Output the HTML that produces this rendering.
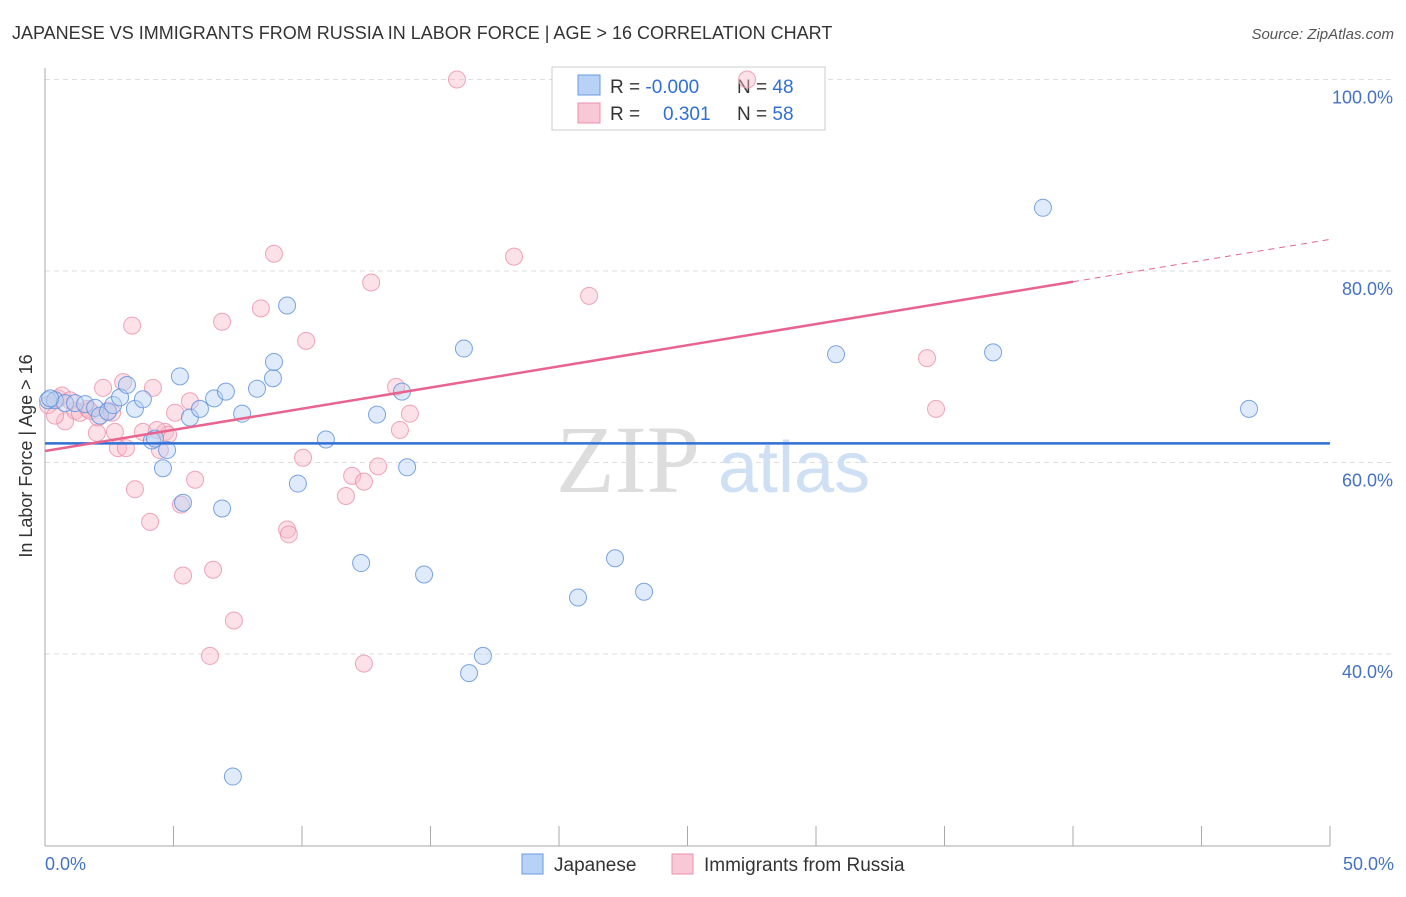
<!DOCTYPE html>
<html><head><meta charset="utf-8"><style>
body{margin:0;background:#fff;font-family:"Liberation Sans",sans-serif;}
</style></head><body>
<svg width="1406" height="892" xmlns="http://www.w3.org/2000/svg" font-family="Liberation Sans, sans-serif">
<text x="12" y="39" font-size="18" fill="#333">JAPANESE VS IMMIGRANTS FROM RUSSIA IN LABOR FORCE | AGE &gt; 16 CORRELATION CHART</text>
<text x="1394" y="39" font-size="15" fill="#555" font-style="italic" text-anchor="end">Source: ZipAtlas.com</text>
<g id="grid"></g>
<line x1="45" y1="68" x2="45" y2="846" stroke="#aaa"/>
<line x1="45" y1="846" x2="1330" y2="846" stroke="#aaa"/>
<text x="556" y="492" font-size="96" fill="#ddd" font-family="Liberation Serif, serif">ZIP</text>
<text x="718" y="492" font-size="72" fill="#cfe0f5">atlas</text>
<g>
<rect x="552" y="67" width="273" height="63" fill="#fff" stroke="#ccc"/>
<rect x="578" y="75" width="22" height="20" fill="#b8d2f5" stroke="#6a9ae0"/>
<rect x="578" y="103" width="22" height="20" fill="#f8c8d6" stroke="#e890aa"/>
<text x="610" y="93" font-size="19" fill="#333">R = <tspan fill="#2f6fd6">-0.000</tspan></text>
<text x="737" y="93" font-size="19" fill="#333">N = <tspan fill="#2f6fd6">48</tspan></text>
<text x="610" y="120" font-size="19" fill="#333">R = </text>
<text x="663" y="120" font-size="19" fill="#2f6fd6">0.301</text>
<text x="737" y="120" font-size="19" fill="#333">N = <tspan fill="#2f6fd6">58</tspan></text>
</g>
<g id="ticks"></g>
<g id="pts"></g>
<g id="lines"></g>
<text x="32" y="456" font-size="18" fill="#333" text-anchor="middle" transform="rotate(-90 32 456)">In Labor Force | Age &gt; 16</text>
<text x="45" y="870" font-size="18" fill="#4472c4">0.0%</text>
<text x="1394" y="870" font-size="18" fill="#4472c4" text-anchor="end">50.0%</text>
<g>
<rect x="522" y="854" width="21" height="20" fill="#b8d2f5" stroke="#6a9ae0"/>
<text x="554" y="871" font-size="19" fill="#333">Japanese</text>
<rect x="672" y="854" width="21" height="20" fill="#f8c8d6" stroke="#e890aa"/>
<text x="704" y="871" font-size="19" fill="#333">Immigrants from Russia</text>
</g>
</svg>
<script>
const yTicks=[40,60,80,100];
const xTickVals=[0,5,10,15,20,25,30,35,40,45,50];
const blueX=[0.12,0.39,0.78,1.17,1.56,1.95,2.14,2.45,2.65,2.92,3.19,3.5,3.81,4.16,4.28,4.59,4.75,5.25,5.37,5.64,6.03,6.58,6.89,7.04,7.31,7.67,8.25,8.87,8.91,9.42,9.84,10.93,12.3,12.92,13.89,14.09,14.75,16.3,16.5,17.04,20.74,22.18,23.31,30.78,36.89,38.83,46.85,0.2];
const blueY=[66.5,66.5,66.2,66.2,66.1,65.7,64.9,65.3,66.0,66.8,68.1,65.6,66.6,62.3,62.5,59.4,61.3,69.0,55.8,64.7,65.6,66.7,55.2,67.4,27.2,65.1,67.7,68.8,70.5,76.4,57.8,62.4,49.5,65.0,67.4,59.5,48.3,71.9,38.0,39.8,45.9,50.0,46.5,71.3,71.5,86.6,65.6,66.7];
const pinkX=[0.12,0.51,0.66,0.78,1.17,1.36,1.67,2.02,2.26,2.45,2.72,2.84,3.04,3.15,3.39,3.5,3.81,4.09,4.2,4.47,4.67,4.79,5.06,5.29,5.37,5.64,5.84,6.42,6.54,6.89,7.35,8.4,8.91,9.42,9.49,10.04,10.16,11.71,11.95,12.41,12.41,12.69,12.96,13.66,13.81,14.2,16.03,18.25,21.17,27.32,34.32,34.67,2.06,4.36,1.75,2.61,0.97,0.39];
const pinkY=[66.0,66.7,67.0,64.3,65.4,65.2,65.6,63.1,67.8,65.4,63.2,61.5,68.4,61.5,74.3,57.2,63.2,53.8,67.8,61.3,63.2,62.9,65.2,55.6,48.2,66.4,58.2,39.8,48.8,74.7,43.5,76.1,81.8,53.0,52.5,60.5,72.7,56.5,58.6,58.0,39.0,78.8,59.6,67.9,63.4,65.1,100,81.5,77.4,100,70.9,65.6,64.7,63.4,65.4,65.2,66.5,64.9];
const xMin=0,xMax=50,yMin=0,yMax=100;
function sx(v){return 45+(v-xMin)/(xMax-xMin)*1285;}
function sy(v){return 1037-(v-yMin)/(yMax-yMin)*957.5;}
const NS='http://www.w3.org/2000/svg';
const grid=document.getElementById('grid');
yTicks.forEach(t=>{
 const l=document.createElementNS(NS,'line');
 l.setAttribute('x1',45);l.setAttribute('x2',1394);l.setAttribute('y1',sy(t));l.setAttribute('y2',sy(t));
 l.setAttribute('stroke','#ddd');l.setAttribute('stroke-dasharray','5,4');
 
 
 grid.appendChild(l);
 const tx=document.createElementNS(NS,'text');
 tx.setAttribute('x',1393);tx.setAttribute('y',sy(t)+24);tx.setAttribute('text-anchor','end');
 tx.setAttribute('font-size','18');tx.setAttribute('fill','#4472c4');tx.textContent=t.toFixed(1)+'%';
 
 
 grid.appendChild(tx);
});
const ticks=document.getElementById('ticks');
xTickVals.forEach(t=>{
 const l=document.createElementNS(NS,'line');
 l.setAttribute('x1',sx(t));l.setAttribute('x2',sx(t));l.setAttribute('y1',826);l.setAttribute('y2',846);
 l.setAttribute('stroke','#aaa');
 
 
 ticks.appendChild(l);
});
const pts=document.getElementById('pts');
function dots(X,Y,fill,stroke,name){
 X.forEach((x,i)=>{
  const c=document.createElementNS(NS,'circle');
  c.setAttribute('cx',sx(x));c.setAttribute('cy',sy(Y[i]));c.setAttribute('r',8.5);
  c.setAttribute('fill',fill);c.setAttribute('fill-opacity','0.45');c.setAttribute('stroke',stroke);c.setAttribute('stroke-opacity','0.8');
  
  
  pts.appendChild(c);
 });
}
dots(pinkX,pinkY,'#f8bccd','#eb90aa','russia-point');
dots(blueX,blueY,'#b8d2f5','#5b8fdc','japanese-point');
const lines=document.getElementById('lines');
function ln(x1,y1,x2,y2,col,w,dash,name){
 const l=document.createElementNS(NS,'line');
 l.setAttribute('x1',sx(x1));l.setAttribute('y1',sy(y1));l.setAttribute('x2',sx(x2));l.setAttribute('y2',sy(y2));
 l.setAttribute('stroke',col);l.setAttribute('stroke-width',w);if(dash)l.setAttribute('stroke-dasharray',dash);
 
 
 lines.appendChild(l);
}
const blueTrend=[62.0,62.0];
const pinkTrend=[61.2,83.3];
ln(0,blueTrend[0],50,blueTrend[1],'#2f6fd6',2.5,null,'japanese-trendline');
const pe=40;
ln(0,pinkTrend[0],pe,pinkTrend[0]+(pinkTrend[1]-pinkTrend[0])*pe/50,'#e8648e',2.5,null,'russia-trendline');
ln(pe,pinkTrend[0]+(pinkTrend[1]-pinkTrend[0])*pe/50,50,pinkTrend[1],'#e8648e',1,'6,5','russia-trendline-extension');
</script>
</body></html>
